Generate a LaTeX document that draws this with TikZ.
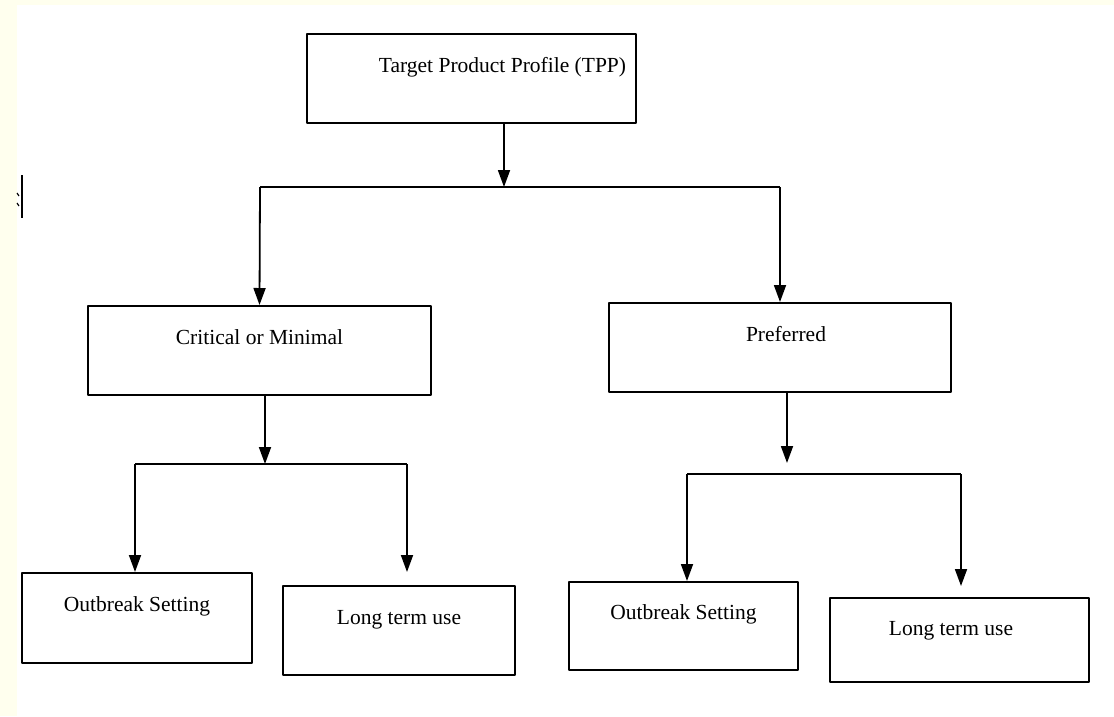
\documentclass[tikz,border=0pt]{standalone}
\usepackage{fontspec}
\setmainfont{Liberation Serif}
\usetikzlibrary{arrows.meta}
\definecolor{paper}{RGB}{255,255,238}
\begin{document}
\begin{tikzpicture}[x=1pt,y=-1pt,>={Triangle[length=17pt,width=12pt]}, line join=round,
	font=\fontsize{21.5}{26}\selectfont,
	box/.style={draw,line width=2pt,rectangle,inner sep=0pt,text height=15pt,text depth=28pt},
	link/.style={line width=1.8pt}]
		\useasboundingbox (0,0) rectangle (1114,716);
		\fill[paper] (0,0) rectangle (1114,716);
		\fill[white] (17,5) rectangle (1114,716);
		\draw[line width=1.4pt] (22,175)--(22,218); % vết thừa
		\draw[line width=1.2pt] (17,193)--(19,196) (17,203)--(19,206);
		% Các khung
		\node[box,minimum width=329pt,minimum height=89pt] (tpp) at (471.5,78.5) {\hspace*{62pt}Target Product Profile (TPP)};
		\node[box,minimum width=343pt,minimum height=89pt] (crit) at (259.5,350.5) {Critical or Minimal};
		\node[box,minimum width=342pt,minimum height=89pt] (pref) at (780,347.5) {\hspace*{12pt}Preferred};
		\node[box,minimum width=230pt,minimum height=90pt] (outA) at (137,618) {Outbreak Setting};
		\node[box,minimum width=232pt,minimum height=89pt] (longA) at (399,630.5) {Long term use};
		\node[box,minimum width=229pt,minimum height=88pt] (outB) at (683.5,626) {Outbreak Setting};
		\node[box,minimum width=259pt,minimum height=84pt,text depth=24pt] (longB) at (959.5,640) {Long term use\hspace*{17pt}};
		% Điểm nối
		\coordinate (t1) at (504,187); \coordinate (b1L) at (260,187); \coordinate (b1R) at (780,187);
		\coordinate (t2) at (265,464); \coordinate (b2L) at (135,464); \coordinate (b2R) at (407,464);
		\coordinate (e2R) at (407,572);
		\coordinate (t3) at (787,463); \coordinate (b3L) at (687,474); \coordinate (b3R) at (961,474);
		\coordinate (e3R) at (961,586);
		% Mũi tên
		\draw[link,->] (tpp.south -| t1)--(t1);
		\draw[link] (b1L)--(b1R);
		\draw[link,->] (b1L)--(crit.north);
		\draw[link,->] (b1R)--(pref.north);
		\draw[link,->] (crit.south -| t2)--(t2);
		\draw[link] (b2L)--(b2R);
		\draw[link,->] (b2L)--(outA.north -| b2L);
		\draw[link,->] (b2R)--(e2R);
		\draw[link,->] (pref.south -| t3)--(t3);
		\draw[link] (b3L)--(b3R);
		\draw[link,->] (b3L)--(outB.north -| b3L);
		\draw[link,->] (b3R)--(e3R);
\end{tikzpicture}
\end{document}
